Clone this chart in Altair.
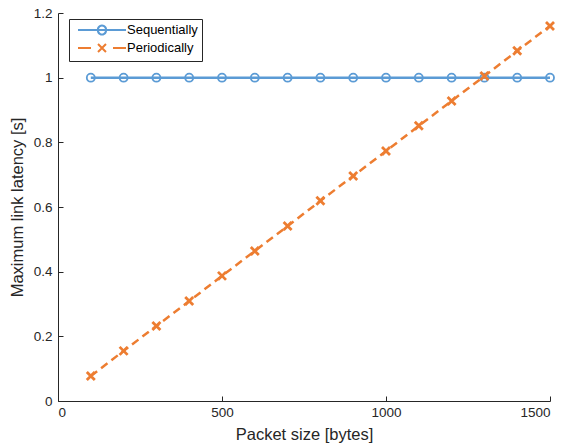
import altair as alt
import pandas as pd

packet_size = [100, 200, 300, 400, 500, 600, 700, 800, 900, 1000, 1100, 1200, 1300, 1400, 1500]
sequentially = [1.0] * 15
periodically = [0.077, 0.155, 0.232, 0.309, 0.387, 0.464, 0.541, 0.619, 0.696, 0.773,
                0.851, 0.928, 1.005, 1.083, 1.160]
series_names = ["Sequentially", "Periodically"]
x_ticks = [0, 500, 1000, 1500]
y_ticks = [0, 0.2, 0.4, 0.6, 0.8, 1.0, 1.2]

rows = []
for i, x in enumerate(packet_size):
    rows.append({"x": x, "y": sequentially[i], "series": "Sequentially"})
    rows.append({"x": x, "y": periodically[i], "series": "Periodically"})
df = pd.DataFrame(rows)

W, H = 492, 388
BLUE = "#5b9bd5"
ORANGE = "#ed7d31"
TXT = "#262626"
FONT = "Liberation Sans"

color_scale = alt.Scale(domain=series_names, range=[BLUE, ORANGE])

leg_seq = "M-0.33,0L7.67,0M3,0A0.67,0.67 0 1 1 4.33,0A0.67,0.67 0 1 1 3,0"
leg_per = "M-0.33,0L1.83,0M5.5,0L7.67,0M3,-0.67L4.33,0.67M3,0.67L4.33,-0.67"
circle_path = "M-1,0A1,1 0 1 1 1,0A1,1 0 1 1 -1,0"
x_path = "M-1,-1L1,1M-1,1L1,-1"

x_scale = alt.Scale(domain=[0, 1500], nice=False)
y_scale = alt.Scale(domain=[0, 1.2], nice=False)

base = alt.Chart(df)

lines = base.mark_line(strokeWidth=2.5).encode(
    x=alt.X("x:Q", scale=x_scale,
            axis=alt.Axis(values=x_ticks, format="d", title="Packet size [bytes]",
                          ticks=False, labelPadding=4, titlePadding=8)),
    y=alt.Y("y:Q", scale=y_scale,
            axis=alt.Axis(values=y_ticks, format="~g", title="Maximum link latency [s]",
                          ticks=False, labelPadding=6, titlePadding=8)),
    color=alt.Color("series:N", scale=color_scale, sort=series_names, legend=None),
    strokeDash=alt.StrokeDash("series:N", sort=series_names,
                              scale=alt.Scale(domain=series_names, range=[[1, 0], [8, 5]]),
                              legend=None),
    order="x:Q",
)

circles = base.transform_filter(alt.datum.series == "Sequentially").mark_point(
    filled=False, size=64, opacity=1, shape=circle_path, strokeWidth=1.8
).encode(
    x=alt.X("x:Q", scale=x_scale,
            axis=alt.Axis(values=x_ticks, orient="top", offset=-H, labels=False,
                          domain=False, title=None, ticks=True, tickSize=5)),
    y=alt.Y("y:Q", scale=y_scale,
            axis=alt.Axis(values=y_ticks, orient="right", offset=-W, labels=False,
                          domain=False, title=None, ticks=True, tickSize=5)),
    color=alt.Color("series:N", scale=color_scale, sort=series_names, legend=None),
)

crosses = base.transform_filter(alt.datum.series == "Periodically").mark_point(
    filled=False, size=64, opacity=1, shape=x_path, strokeWidth=2.8
).encode(
    x=alt.X("x:Q", scale=x_scale, axis=None),
    y=alt.Y("y:Q", scale=y_scale, axis=None),
    color=alt.Color("series:N", scale=color_scale, sort=series_names, legend=None),
)

leg = alt.Legend(title=None, orient="none", legendX=11, legendY=6,
                 symbolSize=144, symbolStrokeWidth=2, symbolFillColor="transparent",
                 symbolOpacity=1, labelOffset=40, labelFontSize=13, labelFont=FONT,
                 labelColor="#000", strokeColor=TXT, fillColor="white",
                 padding=4, rowPadding=0)

legend_carrier = base.transform_filter("false").mark_point(
    filled=False, opacity=1, strokeWidth=2
).encode(
    x=alt.X("x:Q", scale=x_scale, axis=None),
    y=alt.Y("y:Q", scale=y_scale, axis=None),
    color=alt.Color("series:N", scale=color_scale, sort=series_names, legend=leg),
    shape=alt.Shape("series:N", sort=series_names,
                    scale=alt.Scale(domain=series_names, range=[leg_seq, leg_per]),
                    legend=leg),
)

chart = alt.layer(lines, circles, crosses, legend_carrier).resolve_axis(
    x="independent", y="independent"
).resolve_legend(color="independent", shape="independent").properties(
    width=W, height=H,
    autosize=alt.AutoSizeParams(type="none"),
    padding={"left": 50, "top": 5, "right": 9, "bottom": 46},
).configure_view(stroke=None).configure_axis(
    domainColor=TXT, tickColor=TXT, labelColor=TXT, titleColor=TXT,
    labelFont=FONT, titleFont=FONT, labelFontSize=13.5, titleFontSize=16.5,
    titleFontWeight="normal", grid=False, domainWidth=1, tickWidth=1,
)

chart.save("out.html", embed_options={"renderer": "svg", "actions": False})
